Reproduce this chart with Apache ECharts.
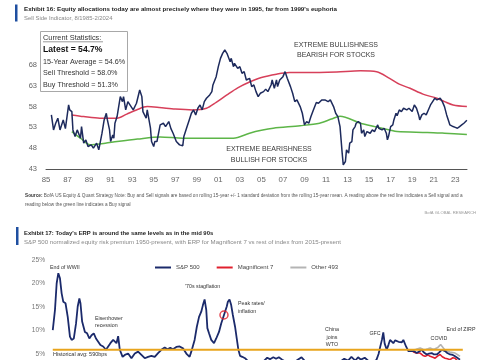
<!DOCTYPE html>
<html><head><meta charset="utf-8">
<script src="https://cdn.jsdelivr.net/npm/echarts@6/dist/echarts.min.js"></script>
<style>html,body{margin:0;padding:0;background:#fff}#c{width:485px;height:360px}</style>
</head><body><div id="c"></div>
<script>
// ---------- Exhibit 16 data ----------
const ssiYears = [1985.5,1985.7,1985.9,1986.1,1986.3,1986.6,1986.8,1987.1,1987.2,1987.4,1987.5,1987.7,1987.9,1988.2,1988.3,1988.5,1988.7,1988.9,1989.2,1989.4,1989.7,1989.9,1990.2,1990.4,1990.6,1990.7,1990.9,1991.0,1991.2,1991.3,1991.4,1991.6,1991.9,1992.1,1992.2,1992.4,1992.6,1992.9,1993.1,1993.4,1993.7,1993.9,1994.0,1994.3,1994.4,1994.7,1994.8,1995.0,1995.1,1995.3,1995.6,1995.9,1996.1,1996.4,1996.6,1996.8,1997.1,1997.4,1997.7,1997.8,1998.1,1998.3,1998.5,1998.7,1998.9,1999.1,1999.3,1999.5,1999.7,1999.9,2000.2,2000.4,2000.5,2000.8,2001.0,2001.2,2001.4,2001.6,2001.8,2001.9,2002.1,2002.2,2002.4,2002.5,2002.8,2003.0,2003.2,2003.4,2003.6,2003.9,2004.1,2004.3,2004.5,2004.7,2004.9,2005.2,2005.4,2005.6,2005.9,2006.0,2006.2,2006.4,2006.5,2006.7,2007.0,2007.2,2007.4,2007.7,2007.9,2008.1,2008.3,2008.6,2008.8,2009.0,2009.2,2009.4,2009.6,2009.8,2010.1,2010.3,2010.6,2010.9,2011.2,2011.4,2011.7,2011.9,2012.1,2012.3,2012.4,2012.5,2012.6,2012.8,2012.9,2013.1,2013.2,2013.4,2013.5,2013.7,2013.8,2014.0,2014.2,2014.3,2014.5,2014.6,2014.8,2015.1,2015.3,2015.5,2015.8,2015.9,2016.2,2016.4,2016.6,2016.7,2016.8,2017.0,2017.2,2017.3,2017.5,2017.6,2017.8,2018.0,2018.2,2018.5,2018.7,2019.0,2019.2,2019.4,2019.6,2019.7,2019.9,2020.1,2020.3,2020.5,2020.7,2020.9,2021.1,2021.3,2021.6,2021.8,2022.0,2022.2,2022.4,2022.5,2022.8,2023.0,2023.2,2023.4,2023.6,2023.8,2023.95,2024.08];
const ssiValues = [56.0,52.4,54.0,55.2,52.4,54.8,52.7,58.4,57.2,56.8,52.4,50.8,52.4,50.4,53.2,49.2,50.0,48.4,48.8,48.0,49.2,47.6,51.6,54.8,56.4,54.8,52.4,49.6,51.2,50.4,54.0,55.6,60.4,59.2,60.4,57.2,59.2,58.0,57.2,58.8,62.0,60.4,56.8,55.2,57.2,52.8,49.6,48.4,49.6,49.6,53.6,54.0,53.2,54.4,52.7,51.6,49.6,48.8,48.6,50.8,53.2,54.8,56.4,57.2,56.0,57.6,58.4,57.2,59.2,60.0,60.8,61.6,63.2,65.2,67.6,69.6,70.8,71.6,70.8,70.4,68.8,69.6,67.6,68.4,67.2,67.6,66.0,66.4,64.4,64.8,62.8,63.2,61.6,60.4,61.2,61.6,62.2,61.6,63.2,64.4,62.4,64.4,62.8,64.4,65.2,66.4,64.8,62.8,61.2,59.2,59.6,58.0,56.4,53.6,54.4,54.0,55.6,57.0,59.0,58.8,59.6,59.6,59.2,59.6,58.0,56.4,55.6,53.2,50.0,46.8,44.0,44.8,47.6,46.8,49.2,49.6,52.4,53.2,54.0,54.4,54.0,51.6,52.4,50.8,52.0,51.6,52.4,52.0,53.6,52.8,52.4,52.8,51.6,50.0,50.8,53.2,53.6,54.8,56.4,55.8,57.2,56.8,57.6,57.2,57.6,56.8,58.4,57.6,56.0,54.8,56.0,56.4,56.0,57.2,58.4,59.2,60.0,59.6,60.0,59.2,58.0,56.0,54.4,53.6,53.2,53.0,52.8,53.2,53.6,54.0,54.4,54.7];
const sellYears = [1987.4,1988.5,1990.0,1991.6,1992.5,1993.4,1994.4,1995.5,1997.0,1998.6,1999.9,2000.8,2001.8,2002.8,2003.9,2005.0,2006.4,2007.6,2010.4,2012.0,2014.2,2015.7,2016.9,2017.8,2018.8,2020.0,2021.3,2022.0,2022.8,2024.08];
const sellValues = [56.0,55.6,55.2,55.2,56.2,57.2,58.0,57.8,57.4,57.2,57.6,59.0,60.8,62.5,63.9,65.0,65.8,66.2,66.2,66.3,66.6,66.4,64.8,63.4,62.4,61.0,60.0,59.2,58.4,58.0];
const buyYears = [1987.4,1988.2,1989.1,1990.5,1991.6,1993.5,1995.6,1997.7,2000.0,2002.4,2003.9,2005.0,2006.1,2008.6,2010.4,2011.5,2012.3,2014.2,2015.5,2016.9,2017.6,2020.4,2022.0,2024.08];
const buyValues = [52.0,50.4,48.8,49.2,49.6,50.2,50.7,50.4,50.4,50.4,51.6,52.3,52.8,53.4,54.0,55.0,55.7,54.0,53.2,52.4,52.0,51.8,51.6,51.3];
const statLines = ['15-Year Average = 54.6%','Sell Threshold = 58.0%','Buy Threshold = 51.3%'];
const statLatest = 'Latest = 54.7%';

// ---------- Exhibit 17 data ----------
const erpYears = [1950.0,1950.4,1950.7,1951.0,1951.3,1951.6,1951.9,1952.3,1952.7,1953.1,1953.4,1953.8,1954.2,1954.5,1954.8,1955.0,1955.3,1955.8,1956.2,1956.6,1957.0,1957.4,1957.8,1958.2,1958.6,1959.1,1959.6,1960.0,1960.4,1960.9,1961.2,1961.5,1961.8,1962.1,1962.6,1963.0,1963.6,1964.2,1964.8,1965.4,1966.0,1966.6,1967.2,1967.8,1968.4,1969.0,1969.6,1970.2,1970.7,1971.2,1971.7,1972.3,1972.9,1973.5,1974.1,1974.7,1975.0,1975.3,1975.6,1976.0,1976.4,1976.8,1977.1,1977.4,1977.7,1977.9,1978.2,1978.6,1979.1,1979.5,1980.0,1980.4,1980.9,1981.4,1981.6,1981.9,1982.2,1982.5,1982.9,1983.2,1983.5,1983.8,1984.2,1984.7,1985.3,1986.2,1987.2,1988.0,1988.7,1989.2,1989.8,1990.3,1990.8,1991.4,1992.2,1993.0,1994.0,1994.9,1995.5,1996.5,1997.5,1998.5,1999.5,2000.3,2001.0,2001.8,2002.6,2003.3,2003.9,2004.2,2004.6,2005.1,2005.6,2006.3,2007.0,2007.6,2008.4,2008.8,2009.05,2009.4,2009.65,2009.9,2010.27,2010.6,2010.87,2011.2,2011.46,2011.8,2012.08,2012.4,2012.67,2013.0,2013.27,2013.5,2013.76,2014.17,2014.78,2015.2,2015.68,2016.2,2016.59,2017.0,2017.49,2017.9,2018.39,2018.8,2019.3,2019.7,2020.2,2020.5,2020.8,2021.2,2021.7,2022.2,2022.6,2023.0,2023.5];
const erpValues = [10.1,14.4,20.0,22.2,21.1,17.9,16.1,15.8,12.9,8.7,8.0,8.3,11.5,15.1,16.8,15.8,11.9,9.7,9.4,8.3,9.0,9.4,8.3,7.6,6.9,6.6,5.9,6.6,7.3,8.0,8.3,7.3,8.8,5.9,4.4,4.8,5.1,4.1,5.1,5.5,4.8,4.1,4.4,4.6,4.4,5.2,5.9,6.4,6.0,6.3,6.0,6.5,6.6,6.2,5.1,4.4,5.5,5.9,8.0,10.8,12.9,14.0,15.4,16.6,14.4,10.5,9.4,8.0,7.3,8.3,9.7,11.5,13.3,15.1,16.1,16.6,15.4,13.3,10.8,8.3,5.9,4.6,4.4,4.1,3.4,2.9,2.6,3.4,4.2,3.9,4.3,4.0,4.3,3.8,3.2,3.1,3.6,4.3,3.5,2.8,2.2,1.6,1.1,1.6,2.6,3.3,4.0,3.6,4.4,4.1,3.6,4.3,3.8,4.2,3.5,3.2,3.7,5.0,6.3,8.0,9.6,7.2,5.9,7.0,8.0,7.6,7.3,7.9,8.0,7.6,7.8,7.5,8.0,7.6,6.6,5.6,5.6,5.6,5.2,5.6,5.9,5.3,4.9,5.1,5.2,4.9,4.9,5.3,5.9,5.5,5.6,5.2,4.9,4.8,4.5,4.2,3.8];
const mag7Years = [2015.0,2015.6,2016.3,2016.8,2017.2,2017.7,2018.1,2018.6,2019.0,2019.5,2019.9,2020.3,2020.8,2021.2,2021.7,2022.2,2022.6,2023.0,2023.5];
const mag7Values = [5.5,5.2,5.2,4.7,4.5,4.8,4.5,4.3,4.1,4.6,4.9,4.4,4.1,4.0,3.8,4.2,4.1,3.6,3.2];
const otherYears = [2015.0,2015.6,2016.3,2016.8,2017.2,2017.7,2018.1,2018.6,2019.0,2019.5,2020.0,2020.3,2020.8,2021.2,2021.7,2022.2,2022.6,2023.0,2023.5];
const otherValues = [5.8,6.0,6.3,6.0,5.9,6.1,6.3,6.0,6.1,6.4,7.0,7.3,5.8,5.6,5.4,5.3,5.2,4.9,4.5];
const histAvg = 5.9;
const histAvgSpan = [1950, 2024];
const peakMark = [1980.9, 13.3];
const erpTicks = [0, 5, 10, 15, 20, 25];

const zip = (xs, ys) => xs.map((x, i) => [x, ys[i]]);
const F = 'Liberation Sans, Arial, sans-serif';
const T = (x, y, text, size, o) => ({type: 'text', x: x, y: y, silent: true, z: 100,
  style: Object.assign({text: text, fontSize: size, fontFamily: F, fill: '#333', align: 'left', verticalAlign: 'middle'}, o || {})});

const chart = echarts.init(document.getElementById('c'), null, {renderer: 'canvas'});
chart.setOption({
  animation: false,
  backgroundColor: '#fff',
  grid: [
    {left: 46, width: 421, top: 44.2, height: 124.8, containLabel: false, outerBoundsMode: 'none'},
    {left: 50, width: 420, top: 260, height: 117.5, containLabel: false, outerBoundsMode: 'none'}
  ],
  xAxis: [
    {type: 'value', gridIndex: 0, min: 1985, max: 2024.09, interval: 2,
     axisLine: {show: true, lineStyle: {color: '#555', width: 1}}, axisTick: {show: false}, splitLine: {show: false},
     axisLabel: {fontSize: 7.8, color: '#666', fontFamily: F, margin: 7,
       formatter: v => (Math.abs(v - Math.round(v)) < 1e-6 && (Math.round(v) - 1985) % 2 === 0) ? String(Math.round(v)).slice(2) : ''}},
    {type: 'value', gridIndex: 1, min: 1949.5, max: 2025.3, show: false}
  ],
  yAxis: [
    {type: 'value', gridIndex: 0, min: 43, max: 73, interval: 5,
     axisLine: {show: false}, axisTick: {show: false}, splitLine: {show: false},
     axisLabel: {fontSize: 7.5, color: '#666', fontFamily: F, margin: 9, formatter: v => v >= 72 ? '' : String(v)}},
    {type: 'value', gridIndex: 1, min: erpTicks[0], max: erpTicks[erpTicks.length - 1], interval: 5,
     axisLine: {show: false}, axisTick: {show: false}, splitLine: {show: false},
     axisLabel: {fontSize: 6.6, color: '#777', fontFamily: F, margin: 5, formatter: v => v + '%'}}
  ],
  legend: {
    data: ['S&P 500', 'Magnificent 7', 'Other 493'],
    left: 150, top: 259.5, icon: 'rect', itemWidth: 16, itemHeight: 2, itemGap: 17,
    textStyle: {fontSize: 6, color: '#444', fontFamily: F}
  },
  series: [
    {name: 'Sell Threshold', type: 'line', xAxisIndex: 0, yAxisIndex: 0, data: zip(sellYears, sellValues),
     symbol: 'none', smooth: 0.3, lineStyle: {color: '#d7405a', width: 1.5}, silent: true},
    {name: 'Buy Threshold', type: 'line', xAxisIndex: 0, yAxisIndex: 0, data: zip(buyYears, buyValues),
     symbol: 'none', smooth: 0.3, lineStyle: {color: '#5db548', width: 1.5}, silent: true},
    {name: 'Sell Side Indicator', type: 'line', xAxisIndex: 0, yAxisIndex: 0, data: zip(ssiYears, ssiValues),
     symbol: 'none', lineStyle: {color: '#1d2a5c', width: 1.5}, silent: true},
    {name: 'Other 493', type: 'line', xAxisIndex: 1, yAxisIndex: 1, data: zip(otherYears, otherValues),
     symbol: 'none', itemStyle: {color: '#b4b4b4'}, lineStyle: {color: '#b4b4b4', width: 1.6}, silent: true},
    {name: 'Magnificent 7', type: 'line', xAxisIndex: 1, yAxisIndex: 1, data: zip(mag7Years, mag7Values),
     symbol: 'none', itemStyle: {color: '#e0202e'}, lineStyle: {color: '#e0202e', width: 1.6}, silent: true},
    {name: 'S&P 500', type: 'line', xAxisIndex: 1, yAxisIndex: 1, data: zip(erpYears, erpValues),
     symbol: 'none', itemStyle: {color: '#1b2a6b'}, lineStyle: {color: '#1b2a6b', width: 1.8}, silent: true},
    {name: 'Historical avg', type: 'line', xAxisIndex: 1, yAxisIndex: 1, data: histAvgSpan.map(y => [y, histAvg]),
     symbol: 'none', lineStyle: {color: '#e8a41c', width: 1.8}, silent: true, z: 3},
    {name: 'Peak marker', type: 'scatter', xAxisIndex: 1, yAxisIndex: 1, data: [peakMark],
     symbol: 'circle', symbolSize: 8, itemStyle: {color: 'rgba(255,255,255,0)', borderColor: '#e0202e', borderWidth: 1.5}, silent: true, z: 4}
  ],
  graphic: [
    {type: 'rect', shape: {x: 15, y: 4.5, width: 2.5, height: 17}, style: {fill: '#1f4fa0'}, silent: true},
    T(24, 9, "Exhibit 16: Equity allocations today are almost precisely where they were in 1995, far from 1999's euphoria", 6.2, {fontWeight: 'bold', fill: '#222'}),
    T(24, 18, 'Sell Side Indicator, 8/1985-2/2024', 5.9, {fill: '#888'}),
    {type: 'rect', shape: {x: 40.5, y: 31.5, width: 87, height: 60}, style: {fill: '#fff', stroke: '#a8a8a8', lineWidth: 1}, silent: true, z: 99},
    T(43, 37.5, 'Current Statistics:', 7.4, {fill: '#333'}),
    {type: 'line', shape: {x1: 43, y1: 41.8, x2: 103, y2: 41.8}, style: {stroke: '#555', lineWidth: 0.6}, silent: true, z: 100},
    T(43, 50, statLatest, 8.6, {fontWeight: 'bold', fill: '#111'}),
    T(43, 62, statLines[0], 7.2),
    T(43, 73.5, statLines[1], 7.2),
    T(43, 85, statLines[2], 7.2),
    T(336, 45, 'EXTREME BULLISHNESS', 7, {align: 'center', fill: '#3a3a3a'}),
    T(336, 55, 'BEARISH FOR STOCKS', 7, {align: 'center', fill: '#3a3a3a'}),
    T(269, 149.3, 'EXTREME BEARISHNESS', 7, {align: 'center', fill: '#3a3a3a'}),
    T(269, 160, 'BULLISH FOR STOCKS', 7, {align: 'center', fill: '#3a3a3a'}),
    T(25, 196, '{b|Source:} BofA US Equity & Quant Strategy Note: Buy and Sell signals are based on rolling 15-year +/- 1 standard deviation from the rolling 15-year mean. A reading above the red line indicates a Sell signal and a', 4.7,
      {fill: '#555', rich: {b: {fontWeight: 'bold', fontSize: 4.7, fontFamily: F, fill: '#333'}}}),
    T(25, 205, 'reading below the green line indicates a Buy signal', 4.7, {fill: '#555'}),
    T(476, 213, 'BofA GLOBAL RESEARCH', 4.2, {align: 'right', fill: '#999'}),
    {type: 'rect', shape: {x: 16, y: 227, width: 2.5, height: 18}, style: {fill: '#1f4fa0'}, silent: true},
    T(24, 233, "Exhibit 17: Today's ERP is around the same levels as in the mid 90s", 5.9, {fontWeight: 'bold', fill: '#222'}),
    T(24, 242, 'S&P 500 normalized equity risk premium 1950-present, with ERP for Magnificent 7 vs rest of index from 2015-present', 6.1, {fill: '#888'}),
    T(50, 268, 'End of WWII', 5.3),
    T(95, 318.3, 'Eisenhower', 5.3),
    T(95, 326, 'recession', 5.3),
    T(185, 286.7, "'70s stagflation", 5.3),
    T(238, 303.3, 'Peak rates/', 5.3),
    T(238, 311.7, 'inflation', 5.3),
    T(332, 330, 'China', 5.3, {align: 'center'}),
    T(332, 337.5, 'joins', 5.3, {align: 'center'}),
    T(332, 345, 'WTO', 5.3, {align: 'center'}),
    T(375, 333.5, 'GFC', 5.3, {align: 'center'}),
    T(439, 339, 'COVID', 5.3, {align: 'center'}),
    T(461, 330, 'End of ZIRP', 5.3, {align: 'center'}),
    T(53, 354.5, 'Historical avg: 590bps', 5.5)
  ]
});
</script>
</body></html>
